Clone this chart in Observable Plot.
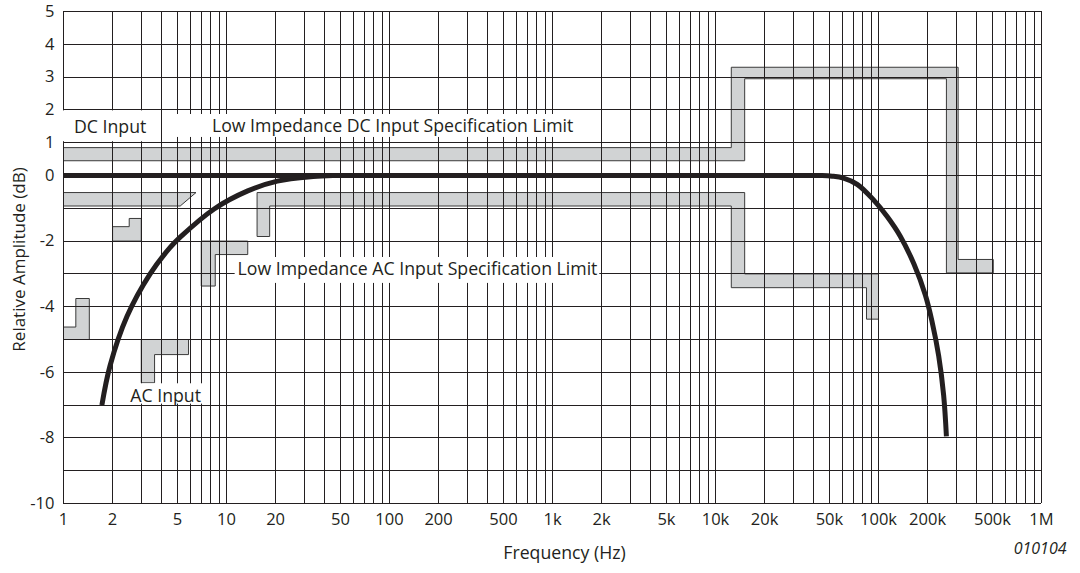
<!DOCTYPE html>
<html><head><meta charset="utf-8">
<script src="https://cdn.jsdelivr.net/npm/d3@7"></script>
<script src="https://cdn.jsdelivr.net/npm/@observablehq/plot@0.6"></script>
<style>body{margin:0;background:#fff;} svg{font-family:"Open Sans",sans-serif;}</style>
</head><body><div id="chart"></div>
<script>
// Axis ticks
const xTicks = [1,2,5,10,20,50,100,200,500,1e3,2e3,5e3,1e4,2e4,5e4,1e5,2e5,5e5,1e6];
const xTickLabels = ["1","2","5","10","20","50","100","200","500","1k","2k","5k","10k","20k","50k","100k","200k","500k","1M"];
const yTicks = [5,4,3,2,1,0,-2,-4,-6,-8,-10];

// Response curves (frequency in Hz, amplitude in dB)
const dcFreq = [1, 100, 10000, 30000, 45000, 52000, 61000, 74000, 93500, 113000, 136000, 165000, 194000, 213000, 234000, 251000, 261000];
const dcDb   = [0, 0, 0, 0, 0, -0.02, -0.08, -0.27, -0.75, -1.25, -1.85, -2.7, -3.65, -4.45, -5.5, -6.7, -7.95];
const acFreq = [1.72, 1.93, 2.45, 3.4, 4.5, 5.2, 8.4, 13.5, 20.5, 34, 45, 60];
const acDb   = [-7.0, -5.8, -4.3, -3.0, -2.2, -1.88, -1.02, -0.47, -0.17, -0.03, 0, 0];

// Specification limit outlines [frequency, dB]
const dcUpperLimit = [[1,0.45],[1,0.85],[12500,0.85],[12500,3.3],[308000,3.3],[308000,-2.56],[506000,-2.56],[506000,-2.97],[261000,-2.97],[261000,2.95],[15100,2.95],[15100,0.45]];
const dcLowerLimit = [[15.4,-0.52],[15100,-0.52],[15100,-3.0],[100000,-3.0],[100000,-4.38],[84400,-4.38],[84400,-3.42],[12500,-3.42],[12500,-0.93],[18.4,-0.93],[18.4,-1.86],[15.4,-1.86]];
const dcLowerLowFreq = [[1,-0.52],[6.5,-0.52],[5.2,-0.93],[1,-0.93]];
const acLimit1 = [[1,-5],[1,-4.62],[1.19,-4.62],[1.19,-3.75],[1.44,-3.75],[1.44,-5]];
const acLimit2 = [[2,-2],[2,-1.56],[2.53,-1.56],[2.53,-1.31],[3,-1.31],[3,-2]];
const acLimit3 = [[3,-5],[5.85,-5],[5.85,-5.46],[3.62,-5.46],[3.62,-6.32],[3,-6.32]];
const acLimit4 = [[7,-2],[13.5,-2],[13.5,-2.41],[8.53,-2.41],[8.53,-3.37],[7,-3.37]];

// Annotations
const labelText = ["DC Input","Low Impedance DC Input Specification Limit","Low Impedance AC Input Specification Limit","AC Input"];
const labelFreq = [1.16, 8.14, 11.7, 2.57];
const labelDb   = [1.48, 1.5, -2.87, -6.73];
const boxF1  = [1, 4.3, 11.3, 2.5];
const boxF2  = [3.8, 1950, 1950, 7.2];
const boxDb1 = [1.03, 1.16, -2.5, -6.35];
const boxDb2 = [1.97, 1.86, -3.29, -6.97];

// Build tables
const dcData = dcFreq.map((f,i)=>({f, v: dcDb[i]}));
const acData = acFreq.map((f,i)=>({f, v: acDb[i]}));
const shapes = [dcUpperLimit, dcLowerLimit, dcLowerLowFreq, acLimit1, acLimit2, acLimit3, acLimit4]
  .flatMap((pts, id) => [...pts, pts[0]].map(([f, v]) => ({f, v, id})));
const labels = labelText.map((t,i)=>({t, f: labelFreq[i], v: labelDb[i]}));
const boxes = boxF1.map((f1,i)=>({f1, f2: boxF2[i], v1: boxDb1[i], v2: boxDb2[i]}));
const xGrid = [];
for (let e = 0; e < 6; e++) for (let m = 1; m < 10; m++) xGrid.push(m * 10 ** e);
xGrid.push(1e6);
const yGrid = d3.range(-10, 6);

const ink = "#231f20";
const chart = Plot.plot({
  width: 1080, height: 573,
  marginLeft: 63, marginRight: 39, marginTop: 11, marginBottom: 70,
  style: {fontFamily: "Open Sans, sans-serif", fontSize: "16.5px", color: ink, background: "white"},
  x: {type: "log", domain: [1, 1e6], axis: null},
  y: {domain: [-10, 5], axis: null},
  marks: [
    Plot.line(shapes, {x: "f", y: "v", z: "id", fill: "#d1d3d4", stroke: "#3a3a3a", strokeWidth: 1, curve: "linear", strokeLinejoin: "miter", strokeLinecap: "butt"}),
    Plot.ruleX(xGrid, {stroke: ink, strokeWidth: 1, shapeRendering: "crispEdges"}),
    Plot.ruleY(yGrid, {stroke: ink, strokeWidth: 1, shapeRendering: "crispEdges"}),
    Plot.rect(boxes, {x1: "f1", x2: "f2", y1: "v1", y2: "v2", fill: "white"}),
    Plot.line(dcData, {x: "f", y: "v", stroke: ink, strokeWidth: 5, curve: "catmull-rom", strokeLinecap: "butt"}),
    Plot.line(acData, {x: "f", y: "v", stroke: ink, strokeWidth: 5, curve: "catmull-rom", strokeLinecap: "butt"}),
    Plot.text(labels, {x: "f", y: "v", text: "t", textAnchor: "start", fill: ink, fontSize: 17.7}),
    Plot.text(xTicks, {x: d => d, text: d => xTickLabels[xTicks.indexOf(d)], frameAnchor: "bottom", dy: 21, fill: ink, fontSize: 16.5}),
    Plot.text(yTicks, {y: d => d, text: d => String(d), frameAnchor: "left", dx: -9, textAnchor: "end", fill: ink, fontSize: 16.5}),
    Plot.text(["Frequency (Hz)"], {frameAnchor: "bottom", dx: 12, dy: 55, fontSize: 17.7, fill: ink}),
    Plot.text(["010104"], {frameAnchor: "bottom-right", dx: 25, dy: 50, textAnchor: "end", fontStyle: "italic", fontSize: 16, fill: ink}),
    Plot.text(["Relative Amplitude (dB)"], {frameAnchor: "left", dx: -44, dy: 2, rotate: -90, textAnchor: "middle", fontSize: 17, fill: ink})
  ]
});
document.getElementById("chart").appendChild(chart);
</script>
</body></html>
